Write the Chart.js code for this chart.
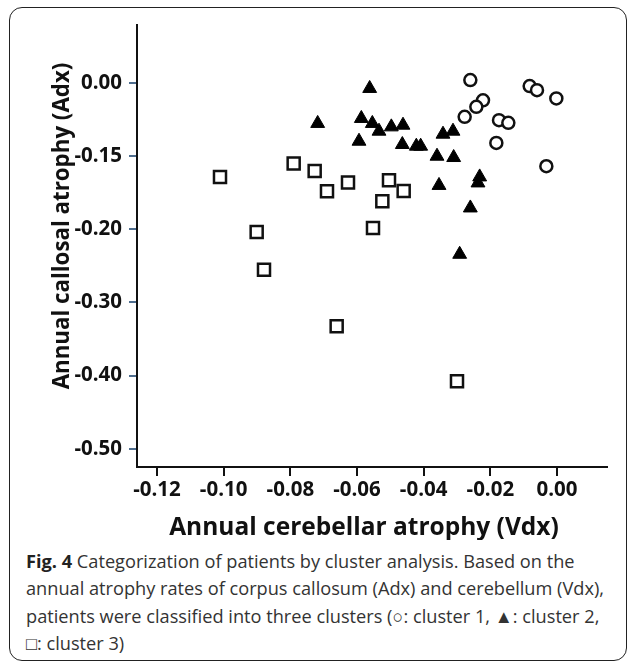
<!DOCTYPE html>
<html>
<head>
<meta charset="utf-8">
<script src="https://cdn.jsdelivr.net/npm/chart.js@4"></script>
<style>
  html, body { margin:0; padding:0; background:#fff; width:627px; height:664px; overflow:hidden; }
  #frame { position:absolute; left:9px; top:7px; width:616px; height:652px; border:1.5px solid #222; border-radius:13px; }
  #wrap { position:absolute; left:0; top:0; width:627px; height:540px; }
  #caption { position:absolute; left:26px; top:548px; width:600px; font-family:"Open Sans", sans-serif; font-size:18.2px; line-height:27.3px; color:#333; white-space:nowrap; }
  #caption b { color:#222; }
</style>
</head>
<body>
<div id="frame"></div>
<div id="wrap"><canvas id="c" width="627" height="540"></canvas></div>
<div id="caption"><b>Fig. 4</b> Categorization of patients by cluster analysis. Based on the<br>annual atrophy rates of corpus callosum (Adx) and cerebellum (Vdx),<br>patients were classified into three clusters (○: cluster 1, ▲: cluster 2,<br>□: cluster 3)</div>
<script>
// Cluster 1 (open circles)
const c1x = [-0.0260, -0.0222, -0.0242, -0.0277, -0.0082, -0.0060, -0.0002, -0.0174, -0.0146, -0.0182, -0.0032];
const c1y = [0.0037, -0.0239, -0.0328, -0.0465, -0.0045, -0.0100, -0.0213, -0.0510, -0.0547, -0.0821, -0.1140];
// Cluster 2 (filled triangles)
const c2x = [-0.0718, -0.0562, -0.0587, -0.0554, -0.0534, -0.0497, -0.0462, -0.0594, -0.0464, -0.0422, -0.0409, -0.0342, -0.0312, -0.0360, -0.0310, -0.0354, -0.0232, -0.0237, -0.0260, -0.0292];
const c2y = [-0.0555, -0.0077, -0.0487, -0.0555, -0.0661, -0.0602, -0.0579, -0.0798, -0.0843, -0.0866, -0.0866, -0.0702, -0.0661, -0.1003, -0.1021, -0.1402, -0.1286, -0.1368, -0.1710, -0.2343];
// Cluster 3 (open squares)
const c3x = [-0.1011, -0.0901, -0.0879, -0.0790, -0.0727, -0.0690, -0.0661, -0.0627, -0.0552, -0.0524, -0.0504, -0.0460, -0.0300];
const c3y = [-0.1286, -0.2038, -0.2553, -0.1103, -0.1204, -0.1482, -0.3328, -0.1363, -0.1984, -0.1618, -0.1331, -0.1477, -0.4077];

const xTickValues = [-0.12, -0.10, -0.08, -0.06, -0.04, -0.02, 0.00];
const xTickLabels = ["-0.12", "-0.10", "-0.08", "-0.06", "-0.04", "-0.02", "0.00"];
const yTickValues = [0, -0.1, -0.2, -0.3, -0.4, -0.5];
const yTickLabels = ["0.00", "-0.15", "-0.20", "-0.30", "-0.40", "-0.50"];

const xTitle = "Annual cerebellar atrophy (Vdx)";
const yTitle = "Annual callosal atrophy (Adx)";

function pts(xs, ys) { return xs.map((x, i) => ({x: x, y: ys[i]})); }

const titlePlugin = {
  id: 'axisTitles',
  afterDraw(chart) {
    const ctx = chart.ctx;
    ctx.save();
    ctx.fillStyle = '#111';
    ctx.textAlign = 'center';
    ctx.textBaseline = 'middle';
    ctx.font = 'bold 24.5px "Open Sans"';
    ctx.fillText(xTitle, 364, 528);
    ctx.translate(63, 226);
    ctx.rotate(-Math.PI / 2);
    ctx.font = 'bold 22.3px "Open Sans"';
    ctx.fillText(yTitle, 0, 0);
    ctx.restore();
  }
};

new Chart(document.getElementById('c'), {
  type: 'scatter',
  data: {
    datasets: [
      { label: 'cluster 1', data: pts(c1x, c1y), pointStyle: 'circle', pointRadius: 6, pointHoverRadius: 6, borderWidth: 2.5, borderColor: '#111', backgroundColor: '#fff' },
      { label: 'cluster 2', data: pts(c2x, c2y), pointStyle: 'triangle', pointRadius: 8, pointHoverRadius: 8, borderWidth: 1, borderColor: '#000', backgroundColor: '#000' },
      { label: 'cluster 3', data: pts(c3x, c3y), pointStyle: 'rect', pointRadius: 8.5, pointHoverRadius: 8.5, borderWidth: 2.5, borderColor: '#111', backgroundColor: '#fff' }
    ]
  },
  options: {
    responsive: false,
    animation: false,
    events: [],
    layout: { padding: { left: 0, top: 25, right: 20, bottom: 0 } },
    plugins: { legend: { display: false }, tooltip: { enabled: false } },
    scales: {
      x: {
        type: 'linear', min: -0.126, max: 0.015,
        afterBuildTicks: s => { s.ticks = xTickValues.map(v => ({value: v})); },
        afterFit: s => { s.height = 73; },
        border: { display: true, color: '#111', width: 2 },
        grid: { drawOnChartArea: false, drawTicks: true, tickLength: 9, color: '#111', lineWidth: 2 },
        ticks: { padding: 2, color: '#111', font: { family: 'Open Sans', weight: 'bold', size: 20.5 },
          callback: (v, i) => xTickLabels[i] }
      },
      y: {
        type: 'linear', min: -0.525, max: 0.079,
        afterBuildTicks: s => { s.ticks = yTickValues.map(v => ({value: v})); },
        afterFit: s => { s.width = 137; },
        border: { display: true, color: '#111', width: 2 },
        grid: { drawOnChartArea: false, drawTicks: true, tickLength: 8, color: '#4f6e8f', lineWidth: 2 },
        ticks: { padding: 7, color: '#111', font: { family: 'Open Sans', weight: 'bold', size: 20.5 },
          callback: (v, i) => yTickLabels[i] }
      }
    }
  },
  plugins: [titlePlugin]
});
</script>
</body>
</html>
